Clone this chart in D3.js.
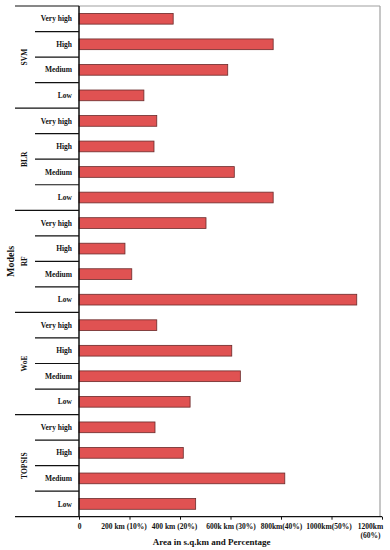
<!DOCTYPE html>
<html>
<head>
<meta charset="utf-8">
<script src="https://cdn.jsdelivr.net/npm/d3@7"></script>
<style>
  body { margin: 0; background: #fff; }
  svg text { font-family: "Liberation Serif", "Times New Roman", serif; font-weight: bold; fill: #111; }
</style>
</head>
<body>
<div id="chart"></div>
<script>
const models = ["SVM", "BLR", "RF", "WoE", "TOPSIS"];
const levels = ["Very high", "High", "Medium", "Low"];

// area per susceptibility class (sq.km)
const svm = [373, 769, 589, 257];
const blr = [308, 297, 615, 769];
const rf = [503, 182, 209, 1100];
const woe = [308, 605, 639, 440];
const topsis = [301, 413, 815, 462];

const tickValues = [0, 200, 400, 600, 800, 1000, 1200];
const tickLabels = ["0", "200 km (10%)", "400 km (20%)", "600k km (30%)", "800km(40%)", "1000km(50%)", "1200km\n(60%)"];

const seriesByModel = {SVM: svm, BLR: blr, RF: rf, WoE: woe, TOPSIS: topsis};

const data = [];
models.forEach(m => {
    levels.forEach((l, i) => {
        data.push({model: m, level: l, key: m + "|" + l, value: seriesByModel[m][i]});
    });
});

const W = 390, H = 550;
const margin = {top: 6, right: 8, bottom: 33.3, left: 79};
const width = W - margin.left - margin.right;
const height = H - margin.top - margin.bottom;

const svg = d3.select("#chart").append("svg")
    .attr("width", W)
    .attr("height", H);

const g = svg.append("g")
    .attr("transform", "translate(" + margin.left + "," + margin.top + ")");

const xScale = d3.scaleLinear().domain([0, 1200]).range([0, width]);
const yScale = d3.scaleBand()
    .domain(data.map(d => d.key))
    .range([0, height])
    .paddingInner(0.58)
    .paddingOuter(0.29);
const step = yScale.step();

// gray frame (top and right)
g.append("line")
    .attr("x1", 0).attr("x2", width - 2)
    .attr("y1", 0).attr("y2", 0)
    .attr("stroke", "#a0a0a0").attr("stroke-width", 1.2);
g.append("line")
    .attr("x1", width - 2).attr("x2", width - 2)
    .attr("y1", 0).attr("y2", height)
    .attr("stroke", "#a0a0a0").attr("stroke-width", 1.2);

// bars
g.selectAll(".bar")
    .data(data)
    .enter().append("rect")
    .attr("class", "bar")
    .attr("x", xScale(0))
    .attr("y", d => yScale(d.key))
    .attr("width", d => xScale(d.value) - xScale(0))
    .attr("height", yScale.bandwidth())
    .attr("fill", "#e05252")
    .attr("stroke", "#6a2a2a")
    .attr("stroke-width", 0.8);

// x axis
const xAxis = d3.axisBottom(xScale)
    .tickValues(tickValues)
    .tickSize(3)
    .tickFormat("");

const xg = g.append("g")
    .attr("class", "x-axis")
    .attr("transform", "translate(0," + height + ")")
    .call(xAxis);
xg.select(".domain").remove();
xg.selectAll(".tick line").attr("stroke", "#111").attr("stroke-width", 1);

const labelShift = [0, -6, -6, 0, 0, -3, -12];
xg.selectAll(".tick").each(function(d, i) {
    const t = d3.select(this).append("text")
        .attr("y", 12)
        .attr("text-anchor", "middle")
        .style("font-size", "7.5px");
    tickLabels[i].split("\n").forEach((line, j) => {
        t.append("tspan")
            .attr("x", 0)
            .attr("dx", labelShift[i])
            .attr("dy", j === 0 ? 0 : 9)
            .text(line);
    });
});

// bottom line extends left under the group column
g.append("line")
    .attr("x1", -64).attr("x2", width)
    .attr("y1", height).attr("y2", height)
    .attr("stroke", "#111").attr("stroke-width", 1.3);

// y axis line
g.append("line")
    .attr("x1", 0).attr("x2", 0)
    .attr("y1", 0).attr("y2", height)
    .attr("stroke", "#111").attr("stroke-width", 1.5);

// category labels
g.selectAll(".cat")
    .data(data)
    .enter().append("text")
    .attr("class", "cat")
    .attr("x", -7)
    .attr("y", d => yScale(d.key) + yScale.bandwidth() / 2)
    .attr("dy", "0.35em")
    .attr("text-anchor", "end")
    .style("font-size", "7.5px")
    .text(d => d.level);

// separators between categories and groups
data.forEach((d, i) => {
    if (i === 0) return;
    const y = yScale(d.key) - yScale.paddingInner() * step / 2;
    const groupStart = d.level === levels[0];
    g.append("line")
        .attr("x1", groupStart ? -64 : -44).attr("x2", 0)
        .attr("y1", y).attr("y2", y)
        .attr("stroke", "#111").attr("stroke-width", 1.2);
});
g.append("line")
    .attr("x1", -64).attr("x2", 0)
    .attr("y1", 0).attr("y2", 0)
    .attr("stroke", "#111").attr("stroke-width", 1.2);

// group (model) labels
models.forEach(m => {
    const first = yScale(m + "|" + levels[0]);
    const last = yScale(m + "|" + levels[levels.length - 1]) + yScale.bandwidth();
    const cy = (first + last) / 2;
    g.append("text")
        .attr("transform", "translate(-55," + cy + ") rotate(-90)")
        .attr("dy", "0.35em")
        .attr("text-anchor", "middle")
        .style("font-size", "7.5px")
        .text(m);
});

// axis titles
g.append("text")
    .attr("transform", "translate(-69," + (height / 2) + ") rotate(-90)")
    .attr("dy", "0.35em")
    .attr("text-anchor", "middle")
    .style("font-size", "10px")
    .text("Models");

g.append("text")
    .attr("x", xScale(525))
    .attr("y", height + 28.5)
    .attr("text-anchor", "middle")
    .style("font-size", "9px")
    .text("Area in s.q.km and Percentage");
</script>
</body>
</html>
